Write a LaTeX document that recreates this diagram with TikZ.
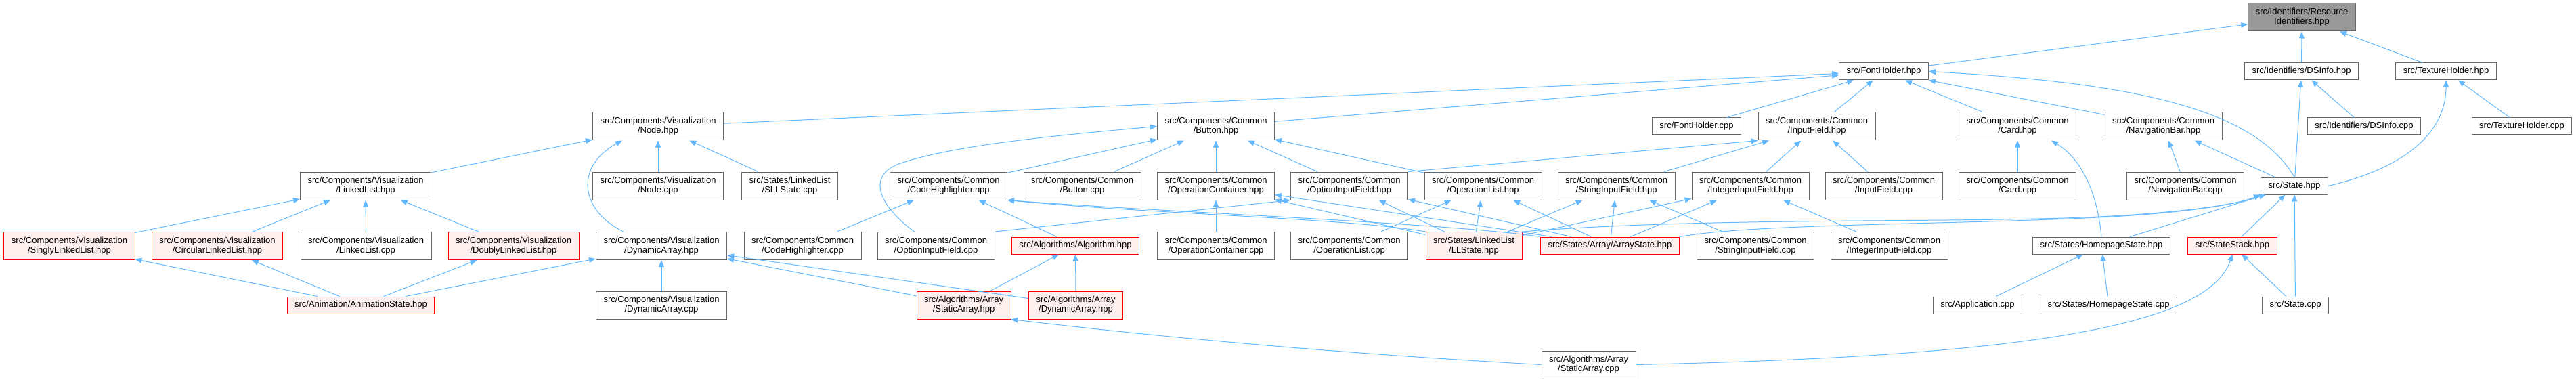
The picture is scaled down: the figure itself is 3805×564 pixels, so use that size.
\documentclass[tikz,border=0pt]{standalone}
\usepackage{fontspec}
\setmainfont{Liberation Sans}
\usetikzlibrary{arrows.meta}
\definecolor{edgeblue}{HTML}{63B8FF}
\definecolor{boxgray}{HTML}{666666}
\definecolor{rootgray}{HTML}{999999}
\definecolor{boxred}{HTML}{FF0000}
\definecolor{redfill}{HTML}{FFF0F0}
\newcommand{\dxfont}{\fontsize{13}{14}\selectfont}
\tikzset{
  box1/.style={draw=boxgray, fill=white, line width=1pt, inner xsep=11pt, inner ysep=2pt,
    minimum height=25pt, align=center, font=\dxfont},
  box2/.style={box1, minimum height=41pt},
  redbox1/.style={box1, draw=boxred, fill=redfill},
  redbox2/.style={box2, draw=boxred, fill=redfill},
  rootbox/.style={box2, fill=rootgray},
  incl/.style={draw=edgeblue, line width=1pt, -{Triangle[length=10pt,width=8pt]}}
}

\begin{document}
\begin{tikzpicture}[x=1pt, y=-1pt]
  \useasboundingbox (0,0) rectangle (3805,564);
  %% top
  \node[rootbox] (res) at (3400,25.5) {src/Identifiers/Resource\\Identifiers.hpp};
  \node[box1] (fonth)   at (2782.5,105.5) {src/FontHolder.hpp};
  \node[box1] (dsinfoh) at (3399.5,105.5) {src/Identifiers/DSInfo.hpp};
  \node[box1] (texh)    at (3613,105.5)   {src/TextureHolder.hpp};
  %%
  \node[box2] (nodeh)   at (972,186.5)  {src/Components/Visualization\\/Node.hpp};
  \node[box2] (buttonh) at (1796,186.5) {src/Components/Common\\/Button.hpp};
  \node[box1] (fontc)   at (2506,186.5) {src/FontHolder.cpp};
  \node[box2] (inputh)  at (2683.5,186.5) {src/Components/Common\\/InputField.hpp};
  \node[box2] (cardh)   at (2980,186.5) {src/Components/Common\\/Card.hpp};
  \node[box2] (navh)    at (3195.5,186.5) {src/Components/Common\\/NavigationBar.hpp};
  \node[box1] (dsinfoc) at (3492,186.5) {src/Identifiers/DSInfo.cpp};
  \node[box1] (texc)    at (3725,186.5) {src/TextureHolder.cpp};
  %%
  \node[box2] (llh)     at (540,274.5)  {src/Components/Visualization\\/LinkedList.hpp};
  \node[box2] (nodec)   at (972,274.5)  {src/Components/Visualization\\/Node.cpp};
  \node[box2] (sllc)    at (1166.5,274.5) {src/States/LinkedList\\/SLLState.cpp};
  \node[box2] (codeh)   at (1401,274.5) {src/Components/Common\\/CodeHighlighter.hpp};
  \node[box2] (buttonc) at (1598.5,274.5) {src/Components/Common\\/Button.cpp};
  \node[box2] (opconth) at (1796,274.5) {src/Components/Common\\/OperationContainer.hpp};
  \node[box2] (optinh)  at (1993,274.5) {src/Components/Common\\/OptionInputField.hpp};
  \node[box2] (oplisth) at (2190.5,274.5) {src/Components/Common\\/OperationList.hpp};
  \node[box2] (strinh)  at (2387.5,274.5) {src/Components/Common\\/StringInputField.hpp};
  \node[box2] (intinh)  at (2585.5,274.5) {src/Components/Common\\/IntegerInputField.hpp};
  \node[box2] (inputc)  at (2782.5,274.5) {src/Components/Common\\/InputField.cpp};
  \node[box2] (cardc)   at (2980,274.5) {src/Components/Common\\/Card.cpp};
  \node[box2] (navc)    at (3228,274.5) {src/Components/Common\\/NavigationBar.cpp};
  \node[box1] (stateh)  at (3389,274.5) {src/State.hpp};
  %%
  \node[redbox2] (sllh) at (102.5,363) {src/Components/Visualization\\/SinglyLinkedList.hpp};
  \node[redbox2] (cllh) at (321,363)   {src/Components/Visualization\\/CircularLinkedList.hpp};
  \node[box2] (llc)     at (540.5,363) {src/Components/Visualization\\/LinkedList.cpp};
  \node[redbox2] (dllh) at (758.5,363) {src/Components/Visualization\\/DoublyLinkedList.hpp};
  \node[box2] (dynvh)   at (977,363)   {src/Components/Visualization\\/DynamicArray.hpp};
  \node[box2] (codec)   at (1185.5,363) {src/Components/Common\\/CodeHighlighter.cpp};
  \node[box2] (optinc)  at (1382.5,363) {src/Components/Common\\/OptionInputField.cpp};
  \node[redbox1] (algh) at (1588.5,362.5) {src/Algorithms/Algorithm.hpp};
  \node[box2] (opcontc) at (1796,363)  {src/Components/Common\\/OperationContainer.cpp};
  \node[box2] (oplistc) at (1993,363)  {src/Components/Common\\/OperationList.cpp};
  \node[redbox2] (llstateh)  at (2177,363)   {src/States/LinkedList\\/LLState.hpp};
  \node[redbox1] (arrstateh) at (2378,362.5) {src/States/Array/ArrayState.hpp};
  \node[box2] (strinc)  at (2593,363)   {src/Components/Common\\/StringInputField.cpp};
  \node[box2] (intinc)  at (2790.5,363) {src/Components/Common\\/IntegerInputField.cpp};
  \node[box1] (homeh)   at (3104,362.5) {src/States/HomepageState.hpp};
  \node[redbox1] (stackh) at (3297.5,362.5) {src/StateStack.hpp};
  %%
  \node[redbox1] (animh) at (533,450.5) {src/Animation/AnimationState.hpp};
  \node[box2] (dynvc)    at (977,450.5)  {src/Components/Visualization\\/DynamicArray.cpp};
  \node[redbox2] (stath) at (1423.5,450.5) {src/Algorithms/Array\\/StaticArray.hpp};
  \node[redbox2] (dynah) at (1589,450.5) {src/Algorithms/Array\\/DynamicArray.hpp};
  \node[box1] (appc)     at (2921,450.5) {src/Application.cpp};
  \node[box1] (homec)    at (3114.5,450.5) {src/States/HomepageState.cpp};
  \node[box1] (statec)   at (3390.5,450.5) {src/State.cpp};
  %%
  \node[box2] (statc) at (2346.5,538.5) {src/Algorithms/Array\\/StaticArray.cpp};
  %% includes, arrow at the included file
  \draw[incl] (fonth) -- (res);
  \draw[incl] (dsinfoh) -- (res);
  \draw[incl] (texh) -- (res);
  %%
  \draw[incl] (nodeh) -- (fonth);
  \draw[incl] (buttonh) -- (fonth);
  \draw[incl] (fontc) -- (fonth);
  \draw[incl] (inputh) -- (fonth);
  \draw[incl] (cardh) -- (fonth);
  \draw[incl] (navh) -- (fonth);
  \draw[incl] (stateh.north) .. controls (3330,160) and (3150,122) .. (fonth.east);
  \draw[incl] (stateh) -- (dsinfoh);
  \draw[incl] (dsinfoc) -- (dsinfoh);
  \draw[incl] (stateh.east) .. controls (3545,250) and (3613,200) .. (texh.south);
  \draw[incl] (texc) -- (texh);
  %%
  \draw[incl] (llh) -- (nodeh);
  \draw[incl] ([xshift=41pt]dynvh.north west) .. controls (855,310) and (850,245) .. ([xshift=44pt]nodeh.south west);
  \draw[incl] (nodec) -- (nodeh);
  \draw[incl] (sllc) -- (nodeh);
  \draw[incl] (sllh) -- (llh);
  \draw[incl] (cllh) -- (llh);
  \draw[incl] (llc) -- (llh);
  \draw[incl] (dllh) -- (llh);
  \draw[incl] (animh) -- (sllh);
  \draw[incl] (animh) -- (cllh);
  \draw[incl] (animh) -- (dllh);
  \draw[incl] (animh) -- (dynvh);
  \draw[incl] (dynvc) -- (dynvh);
  \draw[incl] (stath) -- (dynvh);
  \draw[incl] (dynah) -- (dynvh);
  %%
  \draw[incl] (codeh) -- (buttonh);
  \draw[incl] (buttonc) -- (buttonh);
  \draw[incl] (opconth) -- (buttonh);
  \draw[incl] (optinh) -- (buttonh);
  \draw[incl] (oplisth) -- (buttonh);
  \draw[incl] ([xshift=55pt]optinc.north west) .. controls (1300,305) and (1280,262) .. (1325,243)
    .. controls (1400,215) and (1560,200) .. (buttonh.west);
  \draw[incl] (codec) -- (codeh);
  \draw[incl] (algh) -- (codeh);
  \draw[incl] (llstateh.north west) .. controls (1990,322) and (1700,316) .. (codeh.south east);
  \draw[incl] (arrstateh.north west) .. controls (2150,330) and (1700,312) .. (codeh.south east);
  \draw[incl] (opcontc) -- (opconth);
  \draw[incl] (llstateh) -- (opconth);
  \draw[incl] (arrstateh) -- (opconth);
  %%
  \draw[incl] (optinc.north east) -- (optinh.south west);
  \draw[incl] (llstateh) -- (optinh);
  \draw[incl] (arrstateh) -- (optinh);
  \draw[incl] (oplistc) -- (oplisth);
  \draw[incl] (llstateh) -- (oplisth);
  \draw[incl] (arrstateh) -- (oplisth);
  \draw[incl] (llstateh) -- (strinh);
  \draw[incl] (arrstateh) -- (strinh);
  \draw[incl] (strinc) -- (strinh);
  \draw[incl] (llstateh) -- (intinh);
  \draw[incl] (arrstateh) -- (intinh);
  \draw[incl] (intinc) -- (intinh);
  \draw[incl] (optinh.north east) -- (inputh.south west);
  \draw[incl] (strinh) -- (inputh);
  \draw[incl] (intinh) -- (inputh);
  \draw[incl] (inputc) -- (inputh);
  %%
  \draw[incl] (cardc) -- (cardh);
  \draw[incl] (homeh.north) .. controls (3098,285) and (3075,235) .. ([xshift=50pt]cardh.south);
  \draw[incl] (navc) -- (navh);
  \draw[incl] (stateh) -- (navh);
  \draw[incl] (llstateh.north east) .. controls (2550,318) and (2950,332) .. (3150,317)
    .. controls (3250,310) and (3310,300) .. (stateh.south west);
  \draw[incl] (arrstateh.north east) .. controls (2600,328) and (2950,332) .. (3150,318)
    .. controls (3250,311) and (3310,300) .. (stateh.south west);
  \draw[incl] (homeh) -- (stateh);
  \draw[incl] (stackh) -- (stateh);
  \draw[incl] (statec) -- (stateh);
  \draw[incl] (appc) -- (homeh);
  \draw[incl] (homec) -- (homeh);
  \draw[incl] (statec) -- (stackh);
  \draw[incl] (statc.east) .. controls (3000,526) and (3262,480) .. (stackh.south);
  %%
  \draw[incl] (statc.west) .. controls (1950,520) and (1700,496) .. (stath.south east);
  \draw[incl] (stath) -- (algh);
  \draw[incl] (dynah) -- (algh);
\end{tikzpicture}
\end{document}
